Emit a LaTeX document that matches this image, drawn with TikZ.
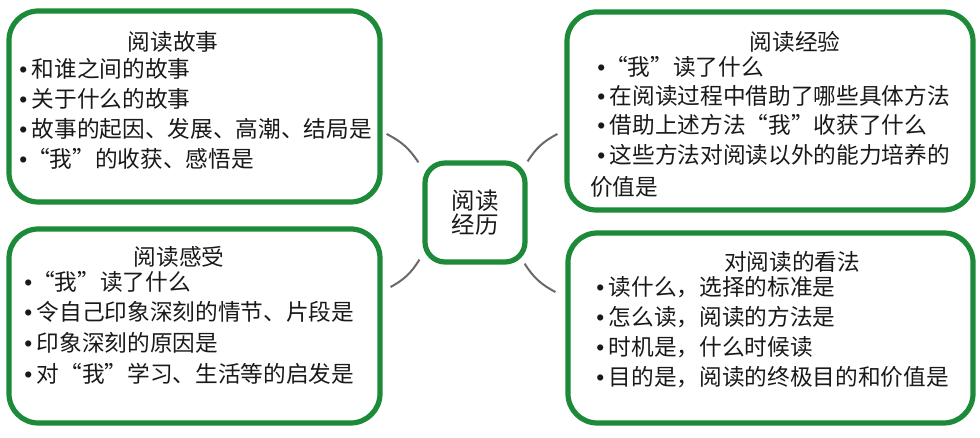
\documentclass[tikz,border=0pt]{standalone}
\usepackage{fontspec}
\setmainfont{Noto Sans CJK SC}
\newfontfamily\latinfont{Liberation Sans}
\usepackage{xcolor}
\usetikzlibrary{calc}
\usetikzlibrary{positioning}
\definecolor{boxgreen}{RGB}{28,138,56}
\definecolor{linkgray}{RGB}{105,105,105}
\newcommand{\bul}{{\latinfont •}\hspace{3.5pt}}
\newcommand{\bulq}{{\latinfont •}}
\tikzset{
  panel/.style={draw=boxgreen, line width=3.9pt, rounded corners=22pt, inner sep=0pt},
  hub/.style={draw=boxgreen, line width=3.9pt, rounded corners=15pt, inner sep=0pt,
    minimum width=75pt, minimum height=74.25pt, align=center,
    font=\fontsize{17.6}{17.5}\selectfont, text=black!90},
  heading/.style={inner sep=0pt, font=\fontsize{17}{20}\selectfont, text=black!90},
  entry/.style={anchor=west, inner sep=0pt, font=\fontsize{17}{20}\selectfont,
    text=black!90, text height=0.88em, text depth=0.12em},
  link/.style={draw=linkgray, line width=1.5pt}
}

\begin{document}
\begin{tikzpicture}[x=0.75pt, y=0.75pt]
\useasboundingbox (0,0) rectangle (980,438);

% centre
\node[hub] (ctr) at (475,225.5) {阅读\\经历};

% four panels
\node[panel, minimum width=278.25pt, minimum height=143.25pt] (tl) at (194.5,331.5) {};
\node[panel, minimum width=304.5pt, minimum height=148.5pt] (tr) at (770,327) {};
\node[panel, minimum width=278.25pt, minimum height=145.5pt] (bl) at (194.5,112) {};
\node[panel, minimum width=303.75pt, minimum height=142.5pt] (br) at (770.5,110) {};

% Reading story
\node[heading] (tl-head) at (173,396) {阅读故事};
\foreach \t [count=\i] in {\bul 和谁之间的故事, \bul 关于什么的故事,
    \bul 故事的起因、发展、高潮、结局是, \bulq “我”的收获、感悟是}
  \node[entry] (tl-\i) at (19,{396.3-30.3*\i}) {\t};

% Reading experience
\node[heading] (tr-head) at (795,396) {阅读经验};
\foreach \t [count=\i] in {\bulq “我”读了什么, \bul 在阅读过程中借助了哪些具体方法,
    \bul 借助上述方法“我”收获了什么, \bul 这些方法对阅读以外的能力培养的}
  \node[entry] (tr-\i) at (597,{397-29.3*\i}) {\t};
\node[entry] (tr-5) at (590,248) {价值是};

% Reading feelings
\node[heading] (bl-head) at (179,181) {阅读感受};
\foreach \t [count=\i] in {\bulq “我”读了什么, \bul 令自己印象深刻的情节、片段是,
    \bul 印象深刻的原因是, \bul 对“我”学习、生活等的启发是}
  \node[entry] (bl-\i) at (24,{183.5-30.7*\i}) {\t};

% Views on reading
\node[heading] (br-head) at (792,176) {对阅读的看法};
\foreach \t [count=\i] in {\bul 读什么，选择的标准是, \bul 怎么读，阅读的方法是,
    \bul 时机是，什么时候读, \bul 目的是，阅读的终极目的和价值是}
  \node[entry] (br-\i) at (596,{178-30*\i}) {\t};

% connectors
\draw[link] ($(tl.east)+(4,-27.5)$) to[bend left=15] ($(ctr.north west)+(-4,-2)$);
\draw[link] ($(tr.west)+(-7,-23)$) to[bend right=15] ($(ctr.north east)+(0,-1)$);
\draw[link] ($(bl.east)+(8,39)$) to[bend right=15] ($(ctr.south west)+(-3,5)$);
\draw[link] ($(br.west)+(-10,36)$) to[bend left=15] ($(ctr.south east)+(-3,1)$);
\end{tikzpicture}
\end{document}
